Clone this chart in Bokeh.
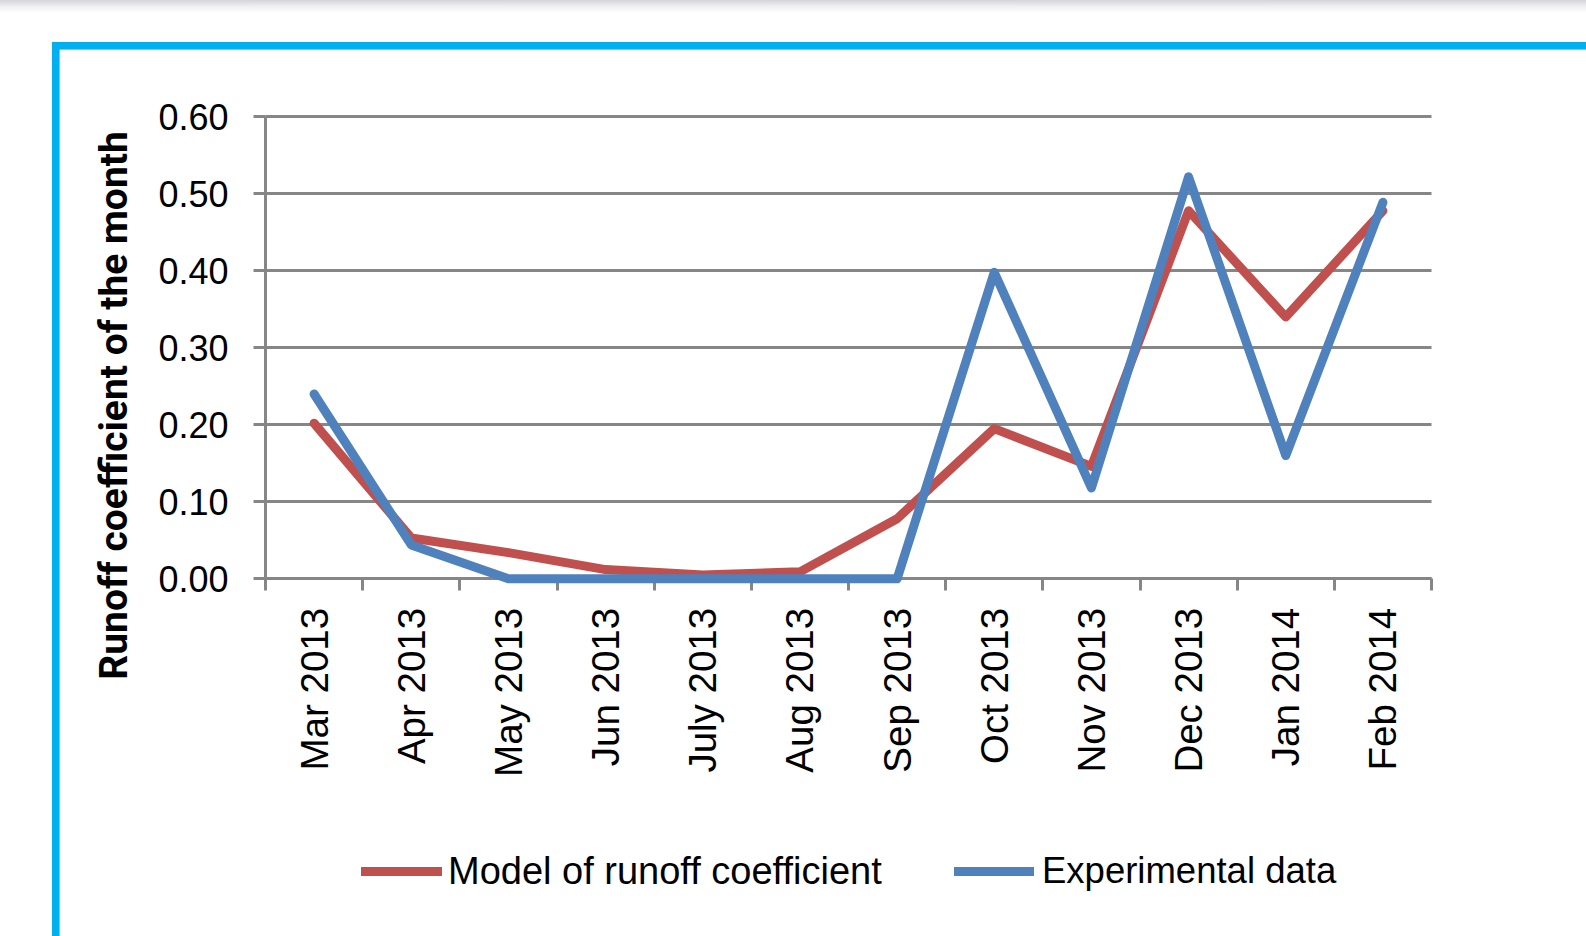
from math import pi
from bokeh.plotting import figure
from bokeh.models import (Range1d, FixedTicker, Legend, LegendItem, Label, Grid,
                          NumeralTickFormatter)
from bokeh.embed import file_html
from bokeh.resources import INLINE

# ---------------- data ----------------
months = ["Mar 2013", "Apr 2013", "May 2013", "Jun 2013", "July 2013", "Aug 2013",
          "Sep 2013", "Oct 2013", "Nov 2013", "Dec 2013", "Jan 2014", "Feb 2014"]
model = [0.202, 0.053, 0.034, 0.012, 0.005, 0.009, 0.078, 0.195, 0.146, 0.478, 0.340, 0.478]
experimental = [0.240, 0.044, 0.0, 0.0, 0.0, 0.0, 0.0, 0.398, 0.118, 0.522, 0.160, 0.489]
y_ticks = [0.0, 0.1, 0.2, 0.3, 0.4, 0.5, 0.6]
y_title = "Runoff coefficient of the month"
series_names = ["Model of runoff coefficient", "Experimental data"]

# ---------------- style / layout ----------------
RED = "#C0504D"
BLUE = "#4F81BD"
GRID = "#868686"
CYAN = "#00B0F0"
FONT = "Liberation Sans"
W, H = 1586, 936
PLOT_L, PLOT_R = 265.0, 1431.0      # plot area edges in pixels
Y0_PX, Y_PX_PER_UNIT = 578.3, 770.0  # pixel row of 0.00 and pixels per unit
LW = 9

n = len(months)
xs = list(range(n))
px_per_cat = (PLOT_R - PLOT_L) / n
x_lo = -0.5 - PLOT_L / px_per_cat
x_hi = n - 0.5 + (W - PLOT_R) / px_per_cat
y_lo = -(H - Y0_PX) / Y_PX_PER_UNIT
y_hi = Y0_PX / Y_PX_PER_UNIT

p = figure(width=W, height=H, output_backend="svg", toolbar_location=None,
           x_range=Range1d(x_lo, x_hi), y_range=Range1d(y_lo, y_hi),
           min_border=0)
p.title.visible = False
p.outline_line_color = None
p.background_fill_alpha = 0
p.border_fill_alpha = 0
# decorative page frame (cyan border and grey top band), painted behind the canvas
p.styles = {
    "background-color": "white",
    "background-image": (f"linear-gradient({CYAN},{CYAN}), linear-gradient({CYAN},{CYAN}), "
                         "linear-gradient(to bottom, #d4d5d9 0px, #eeeeef 6px, #ffffff 13px)"),
    "background-size": "7.6px 100%, 100% 7.6px, 100% 14px",
    "background-position": "51.8px 41.8px, 51.8px 41.8px, 0px 0px",
    "background-repeat": "no-repeat",
}

# x axis (category boundaries as minor ticks, labels at centres)
p.xaxis.fixed_location = 0
p.xaxis.bounds = (-0.5, n - 0.5)
p.xaxis.ticker = FixedTicker(ticks=xs, minor_ticks=[x - 0.5 for x in range(n + 1)])
p.xaxis.major_label_overrides = {i: m for i, m in enumerate(months)}
p.xaxis.major_label_orientation = pi / 2
p.xaxis.major_tick_out = 12
p.xaxis.major_tick_in = 0
p.xaxis.major_tick_line_color = None
p.xaxis.minor_tick_out = 12
p.xaxis.minor_tick_in = 0
p.xaxis.minor_tick_line_color = GRID
p.xaxis.minor_tick_line_width = 3
p.xaxis.axis_line_color = GRID
p.xaxis.axis_line_width = 3
p.xaxis.major_label_standoff = 17
p.xaxis.major_label_text_font = FONT
p.xaxis.major_label_text_font_size = "38.5px"
p.xaxis.major_label_text_color = "black"

# y axis
p.yaxis.fixed_location = -0.5
p.yaxis.bounds = (0, 0.6)
p.yaxis.ticker = FixedTicker(ticks=y_ticks)
p.yaxis.formatter = NumeralTickFormatter(format="0.00")
p.yaxis.major_tick_out = 12
p.yaxis.major_tick_in = 0
p.yaxis.major_tick_line_color = GRID
p.yaxis.major_tick_line_width = 3
p.yaxis.minor_tick_line_color = None
p.yaxis.axis_line_color = GRID
p.yaxis.axis_line_width = 3
p.yaxis.major_label_standoff = 25
p.yaxis.major_label_text_font = FONT
p.yaxis.major_label_text_font_size = "36px"
p.yaxis.major_label_text_color = "black"

# horizontal grid limited to the plot area
p.xgrid.visible = False
if "cross_bounds" in Grid.properties():
    p.ygrid.ticker = FixedTicker(ticks=y_ticks)
    p.ygrid.cross_bounds = (-0.5, n - 0.5)
    p.ygrid.grid_line_color = GRID
    p.ygrid.grid_line_width = 3
else:
    p.ygrid.visible = False
    p.multi_line(xs=[[-0.5, n - 0.5] for _ in y_ticks], ys=[[t, t] for t in y_ticks],
                 line_color=GRID, line_width=3)

# lines
r_model = p.line(xs, model, line_color=RED, line_width=LW, line_cap="round",
                 line_join="round", level="overlay")
r_exp = p.line(xs, experimental, line_color=BLUE, line_width=LW, line_cap="round",
               line_join="round", level="overlay")

# legend (one per entry for exact placement), below the category axis
for r, name, lx, gw, so, fs in [(r_model, series_names[0], 361, 81, 6, "38px"),
                                (r_exp, series_names[1], 954, 80, 8, "36.5px")]:
    lg = Legend(items=[LegendItem(label=name, renderers=[r])], location=(lx, 41),
                orientation="horizontal", padding=0, margin=0, spacing=0,
                glyph_width=gw, glyph_height=48, label_height=48, label_standoff=so,
                label_text_font=FONT, label_text_font_size=fs, label_text_color="black",
                border_line_color=None, background_fill_alpha=0)
    p.add_layout(lg)

# y-axis title
p.add_layout(Label(x=113, y=H - 405, x_units="screen", y_units="screen", text=y_title,
                   angle=pi / 2, text_align="center", text_baseline="middle",
                   text_font="Roboto", text_font_size="39px", text_font_style="bold",
                   text_color="black"))

open("out.html", "w").write(file_html(p, INLINE))
